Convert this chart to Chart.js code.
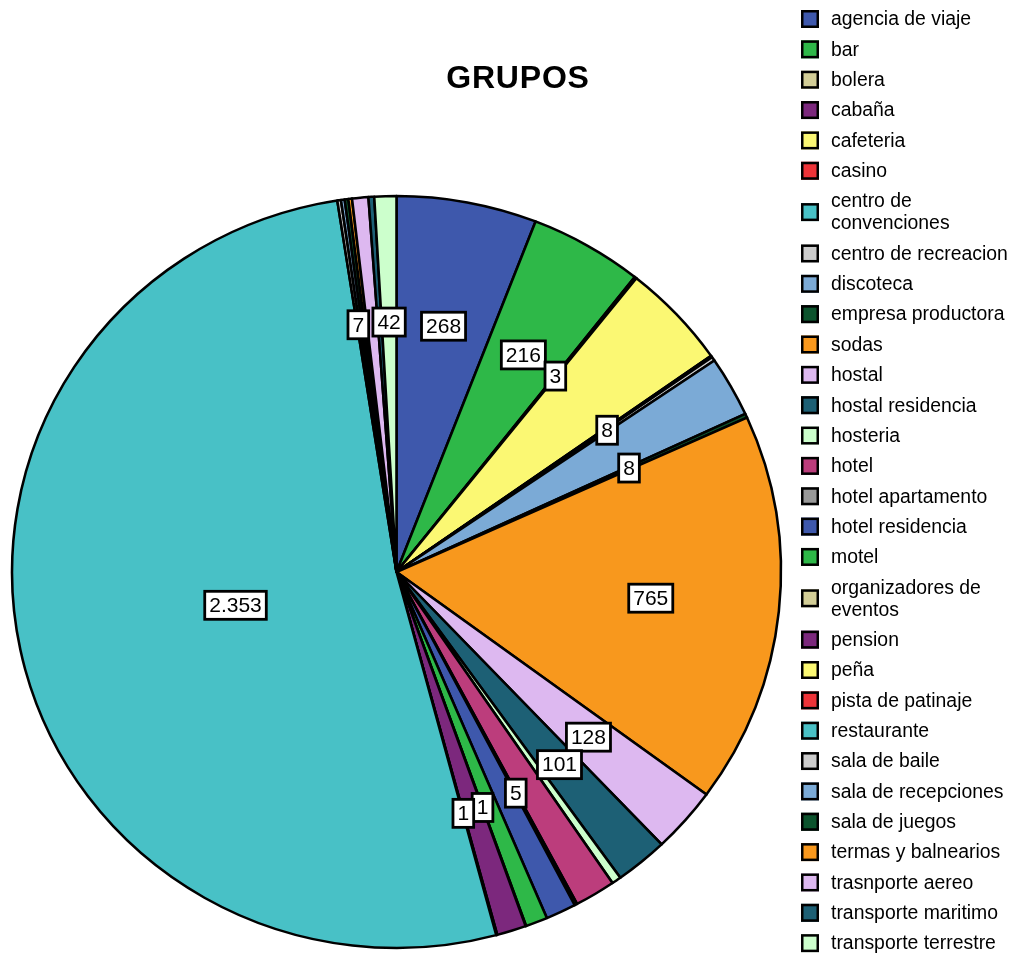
<!DOCTYPE html>
<html>
<head>
<meta charset="utf-8">
<script src="https://cdn.jsdelivr.net/npm/chart.js@4.4.1/dist/chart.umd.min.js"></script>
<style>
html,body{margin:0;padding:0;background:#ffffff;}
#wrap{width:1011px;height:954px;position:relative;}
</style>
</head>
<body>
<div id="wrap"><canvas id="c" width="1011" height="954"></canvas></div>
<script>
// ---- data ----
const chartTitle = 'GRUPOS';
const categories = [
  'agencia de viaje','bar','bolera','cabaña','cafeteria','casino',
  'centro de convenciones','centro de recreacion','discoteca','empresa productora',
  'sodas','hostal','hostal residencia','hosteria','hotel','hotel apartamento',
  'hotel residencia','motel','organizadores de eventos','pension','peña',
  'pista de patinaje','restaurante','sala de baile','sala de recepciones',
  'sala de juegos','termas y balnearios','trasnporte aereo','transporte maritimo',
  'transporte terrestre'
];
const values = [
  268, 216, 3, 1, 206, 2,
  1, 8, 118, 8,
  765, 128, 101, 18, 78, 5,
  58, 42, 1, 56, 1,
  1, 2353, 7, 7,
  7, 7, 31, 11,
  42
];
// which slices carry a value label in the reference
const labelled = [
  true, true, true, false, false, false,
  false, true, false, true,
  true, true, true, false, false, true,
  false, false, true, false, true,
  false, true, true, false,
  false, false, false, false,
  true
];
const palette = [
  '#3E58AC','#2EB848','#D3CE97','#7C287D','#FBF873','#EF3338','#48C1C6','#CCCCCC',
  '#7BAAD6','#0C532D','#F8981D','#DDB8F0','#1D6075','#CCFFCC','#BC3D7C','#999999'
];
const colors = categories.map((_, i) => palette[i % palette.length]);

// ---- helpers ----
const FONT = '"Liberation Sans", Arial, sans-serif';
const STRETCH_X = 1.0225;
function fmt(v){ return String(v).replace(/\B(?=(\d{3})+(?!\d))/g, '.'); }
function wrapText(ctx, text, maxW){
  const words = text.split(' ');
  const lines = [];
  let cur = '';
  for (const w of words){
    const t = cur ? cur + ' ' + w : w;
    if (cur && ctx.measureText(t).width > maxW){ lines.push(cur); cur = w; }
    else cur = t;
  }
  if (cur) lines.push(cur);
  return lines;
}

const stretchPlugin = {
  id: 'stretch',
  beforeDatasetsDraw(chart){
    const ctx = chart.ctx;
    const meta = chart.getDatasetMeta(0);
    const a = meta.data[0];
    ctx.save();
    ctx.translate(a.x, a.y);
    ctx.scale(STRETCH_X, 1);
    ctx.translate(-a.x, -a.y);
  },
  afterDatasetsDraw(chart){
    const ctx = chart.ctx;
    ctx.restore();
    // value labels
    const meta = chart.getDatasetMeta(0);
    const total = values.reduce((s, v) => s + v, 0);
    ctx.save();
    ctx.font = '21px ' + FONT;
    ctx.textAlign = 'center';
    ctx.textBaseline = 'middle';
    meta.data.forEach((arc, i) => {
      if (!labelled[i]) return;
      const p = arc.getProps(['x','y','startAngle','endAngle','outerRadius'], true);
      const mid = (p.startAngle + p.endAngle) / 2;
      const f = values[i] / total > 0.5 ? 0.428 : 0.665;
      const r = p.outerRadius * f;
      const x = p.x + Math.cos(mid) * r * STRETCH_X;
      const y = p.y + Math.sin(mid) * r;
      const txt = fmt(values[i]);
      const tw = ctx.measureText(txt).width;
      const w = tw + 9, h = 28;
      ctx.fillStyle = '#ffffff';
      ctx.fillRect(x - w/2, y - h/2, w, h);
      ctx.lineWidth = 2.8;
      ctx.strokeStyle = '#000000';
      ctx.strokeRect(x - w/2, y - h/2, w, h);
      ctx.fillStyle = '#000000';
      ctx.fillText(txt, x, y + 1);
    });
    ctx.restore();
  },
  afterDraw(chart){
    const ctx = chart.ctx;
    ctx.save();
    // title
    ctx.font = 'bold 32px ' + FONT;
    ctx.fillStyle = '#000000';
    ctx.textAlign = 'center';
    ctx.textBaseline = 'middle';
    try { ctx.letterSpacing = '0.8px'; } catch(e) {}
    ctx.fillText(chartTitle, 518, 79);
    try { ctx.letterSpacing = '0px'; } catch(e) {}
    // legend
    ctx.font = '19.4px ' + FONT;
    ctx.textAlign = 'left';
    let y = 19;
    const gap = 30.35, lineH = 22;
    chart.data.labels.forEach((lab, i) => {
      const lines = wrapText(ctx, lab, 184);
      const boxY = y + (lines.length - 1) * lineH / 2;
      ctx.fillStyle = chart.data.datasets[0].backgroundColor[i];
      ctx.fillRect(801, boxY - 9, 18, 18);
      ctx.lineWidth = 2.5;
      ctx.strokeStyle = '#000000';
      ctx.strokeRect(802.25, boxY - 7.75, 15.5, 15.5);
      ctx.fillStyle = '#000000';
      lines.forEach((ln, k) => ctx.fillText(ln, 831, y + k * lineH + 1));
      y += gap + (lines.length - 1) * lineH;
    });
    ctx.restore();
  }
};

new Chart(document.getElementById('c'), {
  type: 'pie',
  data: {
    labels: categories,
    datasets: [{
      data: values,
      backgroundColor: colors,
      borderColor: '#000000',
      borderWidth: 2.5,
      borderJoinStyle: 'round',
      radius: 376
    }]
  },
  options: {
    responsive: false,
    animation: false,
    events: [],
    layout: { padding: { left: 0, right: 218, top: 190, bottom: 0 } },
    plugins: {
      legend: { display: false },
      title: { display: false },
      tooltip: { enabled: false }
    }
  },
  plugins: [stretchPlugin]
});
</script>
</body>
</html>
